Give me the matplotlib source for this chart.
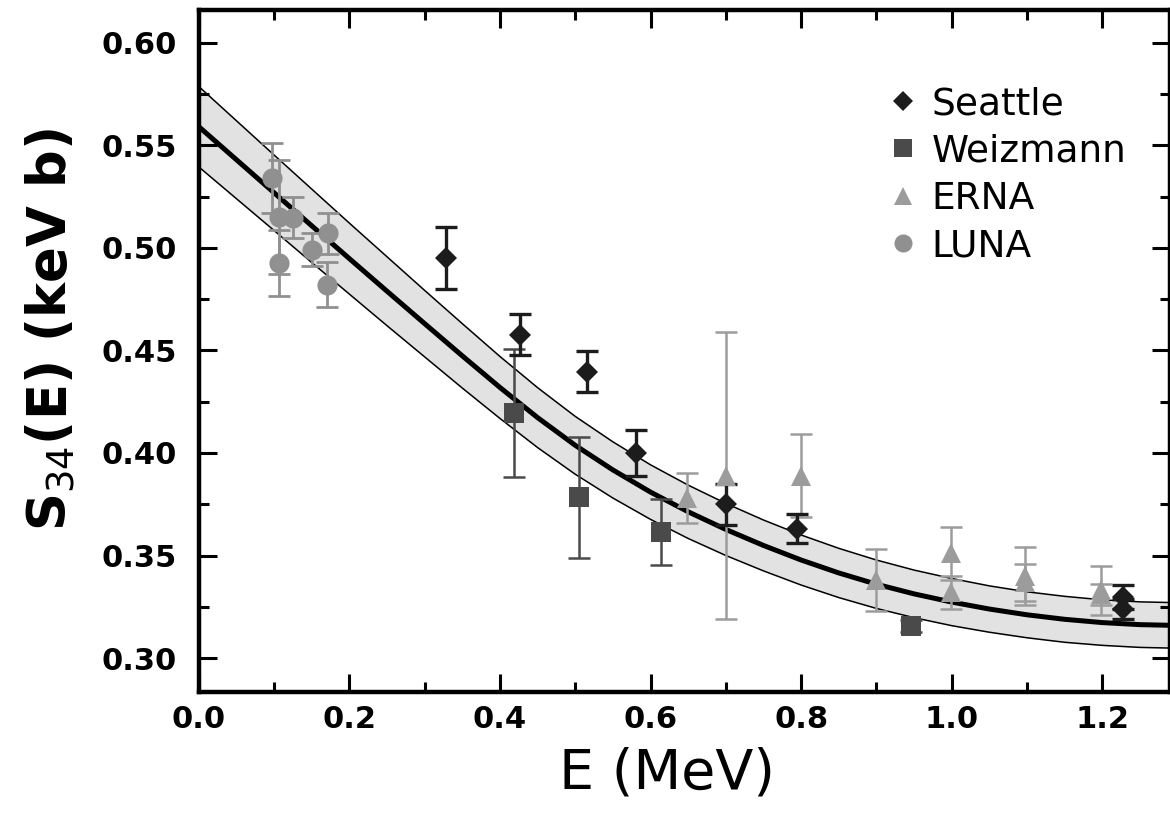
import matplotlib
matplotlib.use("Agg")
import matplotlib.pyplot as plt
from matplotlib.ticker import MultipleLocator, FormatStrFormatter
from matplotlib.lines import Line2D

# ---- fit curve and uncertainty band ----
curve_E = [0.00, 0.05, 0.10, 0.15, 0.20, 0.25, 0.30, 0.35, 0.40, 0.45, 0.50, 0.55, 0.60, 0.65,
           0.70, 0.75, 0.80, 0.85, 0.90, 0.95, 1.00, 1.05, 1.10, 1.15, 1.20, 1.25, 1.30]
curve_S = [0.5590, 0.5429, 0.5268, 0.5107, 0.4947, 0.4788, 0.4630, 0.4473, 0.4319, 0.4172, 0.4037,
           0.3917, 0.3809, 0.3713, 0.3627, 0.3549, 0.3478, 0.3415, 0.3360, 0.3313, 0.3273, 0.3239,
           0.3211, 0.3189, 0.3173, 0.3163, 0.3159]
band_hi = [0.5786, 0.5619, 0.5452, 0.5286, 0.5120, 0.4956, 0.4792, 0.4630, 0.4470, 0.4318, 0.4178,
           0.4054, 0.3942, 0.3843, 0.3754, 0.3673, 0.3600, 0.3535, 0.3478, 0.3429, 0.3388, 0.3352,
           0.3323, 0.3301, 0.3284, 0.3274, 0.3270]
band_lo = [0.5394, 0.5239, 0.5084, 0.4928, 0.4774, 0.4620, 0.4468, 0.4316, 0.4168, 0.4026, 0.3896,
           0.3780, 0.3676, 0.3583, 0.3500, 0.3425, 0.3356, 0.3295, 0.3242, 0.3197, 0.3158, 0.3126,
           0.3099, 0.3077, 0.3062, 0.3052, 0.3048]

# ---- data sets ----
seattle_E = [0.328, 0.426, 0.516, 0.581, 0.700, 0.795, 1.228, 1.228]
seattle_S = [0.495, 0.4576, 0.4395, 0.400, 0.375, 0.363, 0.3298, 0.3239]
seattle_err = [0.015, 0.010, 0.010, 0.011, 0.010, 0.007, 0.006, 0.005]

weiz_E = [0.419, 0.505, 0.614, 0.946]
weiz_S = [0.4195, 0.3785, 0.3615, 0.3156]
weiz_err = [0.031, 0.0295, 0.016, 0.003]

erna_E = [0.649, 0.700, 0.800, 0.899, 0.999, 0.999, 1.098, 1.098, 1.198, 1.198]
erna_S = [0.378, 0.389, 0.389, 0.338, 0.351, 0.332, 0.340, 0.337, 0.333, 0.331]
erna_err = [0.012, 0.070, 0.020, 0.015, 0.013, 0.008, 0.014, 0.009, 0.012, 0.005]

luna_E = [0.097, 0.107, 0.125, 0.171, 0.150, 0.107, 0.170]
luna_S = [0.534, 0.515, 0.5146, 0.507, 0.499, 0.4927, 0.482]
luna_err = [0.017, 0.028, 0.010, 0.010, 0.008, 0.016, 0.011]

x_ticks = [0.0, 0.2, 0.4, 0.6, 0.8, 1.0, 1.2]
y_ticks = [0.30, 0.35, 0.40, 0.45, 0.50, 0.55, 0.60]

c_seattle = "#1c1c1c"
c_weiz = "#4a4a4a"
c_erna = "#9c9c9c"
c_luna = "#909090"

fig = plt.figure(figsize=(11.7, 8.22), dpi=100)
ax = fig.add_axes([0.170, 0.158, 0.830, 0.830])

ax.fill_between(curve_E, band_lo, band_hi, color="#e2e2e2", lw=0, zorder=1)
ax.plot(curve_E, band_hi, color="black", lw=1.1, zorder=2)
ax.plot(curve_E, band_lo, color="black", lw=1.1, zorder=2)
ax.plot(curve_E, curve_S, color="black", lw=3.6, zorder=3, solid_capstyle="butt",
        solid_joinstyle="round")

def draw(E, S, err, marker, color, ms, elw):
    ax.errorbar(E, S, yerr=err, fmt="none", ecolor=color, elinewidth=elw,
                capsize=8, capthick=elw, zorder=4)
    ax.plot(E, S, linestyle="none", marker=marker, color=color, ms=ms,
            markeredgewidth=0, zorder=5)

draw(luna_E, luna_S, luna_err, "o", c_luna, 14.5, 2.0)
draw(erna_E, erna_S, erna_err, "^", c_erna, 14.5, 1.8)
draw(weiz_E, weiz_S, weiz_err, "s", c_weiz, 15, 1.8)
draw(seattle_E, seattle_S, seattle_err, "D", c_seattle, 11, 2.4)

ax.set_xlim(0.0, 1.29)
ax.set_ylim(0.2834, 0.616)
ax.set_xticks(x_ticks)
ax.set_yticks(y_ticks)
ax.xaxis.set_minor_locator(MultipleLocator(0.1))
ax.yaxis.set_minor_locator(MultipleLocator(0.025))
ax.xaxis.set_major_formatter(FormatStrFormatter("%.1f"))
ax.yaxis.set_major_formatter(FormatStrFormatter("%.2f"))

ax.tick_params(which="both", direction="in", top=True, right=True, width=2.2)
ax.tick_params(which="major", length=13, labelsize=22)
ax.tick_params(axis="x", which="major", pad=9)
ax.tick_params(axis="y", which="major", pad=16)
ax.tick_params(which="minor", length=7)
for lab in ax.get_xticklabels() + ax.get_yticklabels():
    lab.set_fontweight("bold")
for sp in ax.spines.values():
    sp.set_linewidth(3.2)

ax.set_xlabel("E (MeV)", fontsize=40)
ax.xaxis.set_label_coords(0.482, -0.080)
ax.set_ylabel(r"S$_{34}$(E) (keV b)", fontsize=38, fontweight="bold")
ax.yaxis.set_label_coords(-0.125, 0.531)

handles = [
    Line2D([], [], ls="none", marker="D", color=c_seattle, ms=10, markeredgewidth=0),
    Line2D([], [], ls="none", marker="s", color=c_weiz, ms=13, markeredgewidth=0),
    Line2D([], [], ls="none", marker="^", color=c_erna, ms=13, markeredgewidth=0),
    Line2D([], [], ls="none", marker="o", color=c_luna, ms=13, markeredgewidth=0),
]
ax.legend(handles, ["Seattle", "Weizmann", "ERNA", "LUNA"], loc="upper left",
          bbox_to_anchor=(0.710, 0.888), frameon=False, fontsize=27,
          handlelength=0.8, handletextpad=0.35, labelspacing=0.3, borderaxespad=0,
          borderpad=0)

fig.savefig("out.png", dpi=100)
